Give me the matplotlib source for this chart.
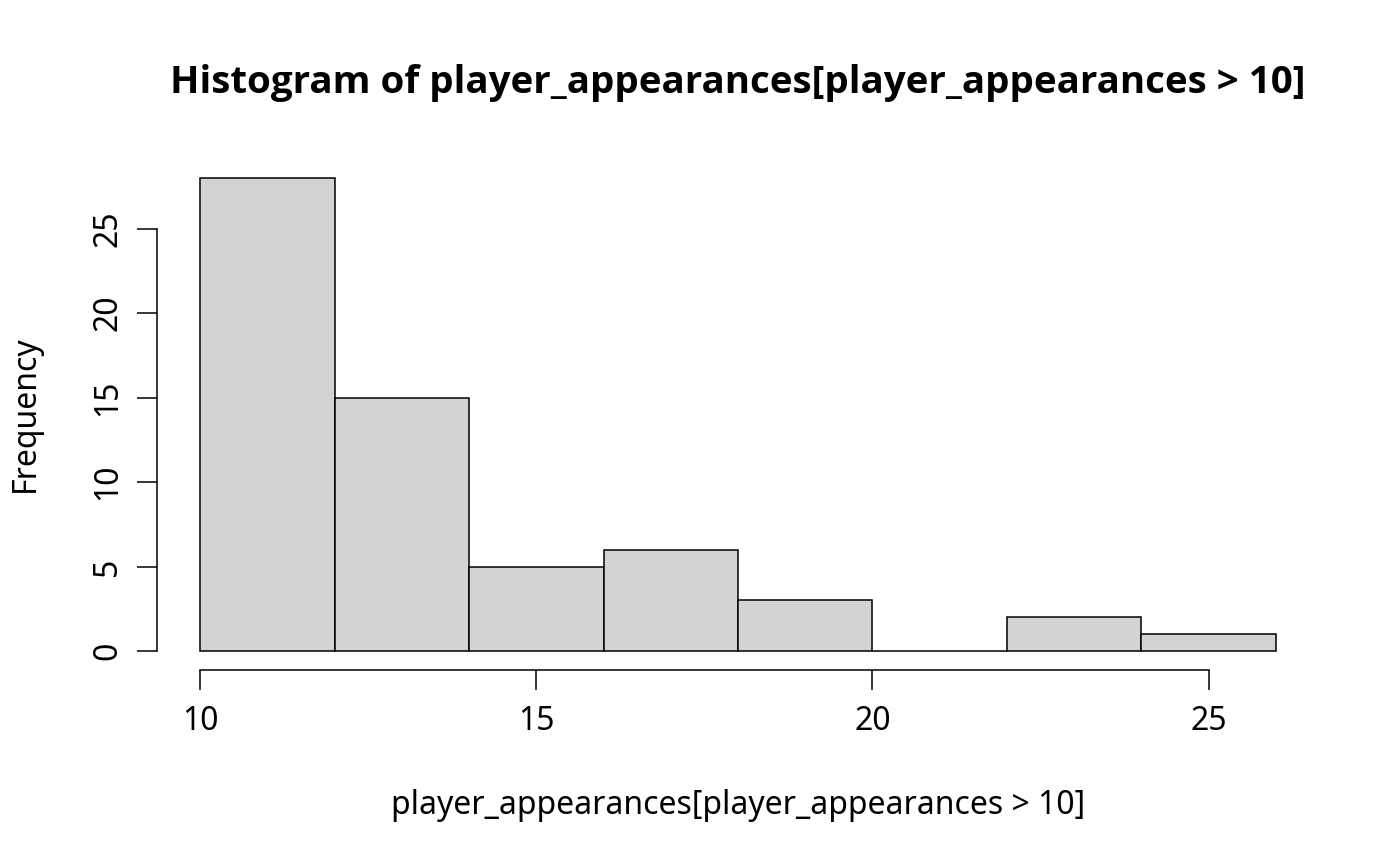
import numpy as np
import matplotlib.pyplot as plt

plt.rcParams["font.family"] = ["Noto Sans", "DejaVu Sans"]

# histogram of player appearances (> 10), bins of width 2
bin_edges = [10, 12, 14, 16, 18, 20, 22, 24, 26]
counts = [28, 15, 5, 6, 3, 0, 2, 1]
x_ticks = [10, 15, 20, 25]
y_ticks = [0, 5, 10, 15, 20, 25]

fig = plt.figure(figsize=(14, 8.66), dpi=100)
ax = fig.add_axes([157 / 1400, 1 - 670 / 866, (1319 - 157) / 1400, (670 - 159) / 866])

lefts = np.array(bin_edges[:-1])
widths = np.diff(bin_edges)
ax.bar(lefts, counts, width=widths, align="edge", color="#d3d3d3",
       edgecolor="black", linewidth=1.1)

# R-style extents (4% padding)
span_x = bin_edges[-1] - bin_edges[0]
ax.set_xlim(bin_edges[0] - 0.04 * span_x, bin_edges[-1] + 0.04 * span_x)
ax.set_ylim(-0.04 * max(counts), max(counts) * 1.04)

for s in ["top", "right"]:
    ax.spines[s].set_visible(False)
ax.spines["left"].set_bounds(y_ticks[0], y_ticks[-1])
ax.spines["bottom"].set_bounds(x_ticks[0], x_ticks[-1])
for s in ["left", "bottom"]:
    ax.spines[s].set_linewidth(1.1)

ax.set_xticks(x_ticks)
ax.set_yticks(y_ticks)
ax.tick_params(axis="both", direction="out", length=14.5, width=1.1,
               labelsize=23, pad=11)
ax.tick_params(axis="y", pad=9)
for lbl in ax.get_yticklabels():
    lbl.set_rotation(90)
    lbl.set_va("center")

fig.text((157 + 1319) / 2 / 1400, 1 - 93 / 866,
         "Histogram of player_appearances[player_appearances > 10]",
         ha="center", va="baseline", fontsize=27.7, fontweight="bold",
         family=["Open Sans", "DejaVu Sans"])
fig.text((157 + 1319) / 2 / 1400, 1 - 805 / 866,
         "player_appearances[player_appearances > 10]",
         ha="center", va="center", fontsize=23)
fig.text(25 / 1400, 1 - 414 / 866, "Frequency", rotation=90,
         ha="center", va="center", fontsize=23)

fig.savefig("out.png", dpi=100)
